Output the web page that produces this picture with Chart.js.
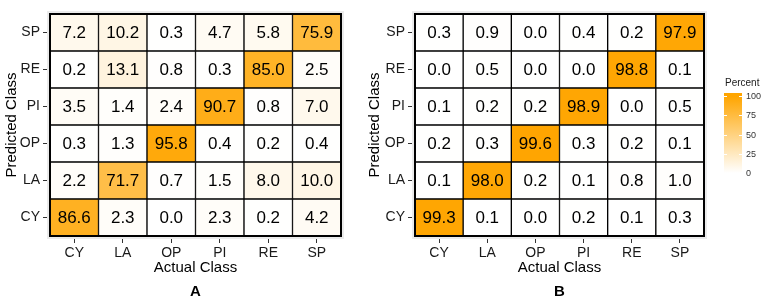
<!DOCTYPE html>
<html>
<head>
<meta charset="utf-8">
<script src="https://cdn.jsdelivr.net/npm/chart.js@4.4.0/dist/chart.umd.min.js"></script>
<style>
  html, body { margin: 0; padding: 0; background: #fff; }
  #wrap { position: relative; width: 765px; height: 306px; overflow: hidden;
          font-family: "Liberation Sans", Arial, sans-serif; }
  canvas { position: absolute; top: 0; }
  #chartA { left: 0; }
  #chartB { left: 363px; }
  #legend { position: absolute; left: 720px; top: 0; width: 45px; height: 306px; }
  #legend .ltitle { position: absolute; left: 5px; top: 77px; font-size: 10px; color: #1a1a1a; }
  #legend .bar { position: absolute; left: 4px; top: 93px; width: 18px; height: 83px; }
  #legend .lab { position: absolute; left: 26px; font-size: 9px; color: #333; line-height: 10px; }
  #legend .tk { position: absolute; width: 3px; height: 1px; background: #fff; }
</style>
</head>
<body>
<div id="wrap">
  <canvas id="chartA" width="363" height="306"></canvas>
  <canvas id="chartB" width="402" height="306"></canvas>
  <div id="legend"><div class="ltitle">Percent</div><div class="bar"></div></div>
</div>
<script>
// class order, bottom-to-top on y, left-to-right on x
const classes = ["CY", "LA", "OP", "PI", "RE", "SP"];

// Panel A: one row per predicted class, columns are the actual class
const a_CY = [86.6, 2.3, 0.0, 2.3, 0.2, 4.2];
const a_LA = [2.2, 71.7, 0.7, 1.5, 8.0, 10.0];
const a_OP = [0.3, 1.3, 95.8, 0.4, 0.2, 0.4];
const a_PI = [3.5, 1.4, 2.4, 90.7, 0.8, 7.0];
const a_RE = [0.2, 13.1, 0.8, 0.3, 85.0, 2.5];
const a_SP = [7.2, 10.2, 0.3, 4.7, 5.8, 75.9];

// Panel B
const b_CY = [99.3, 0.1, 0.0, 0.2, 0.1, 0.3];
const b_LA = [0.1, 98.0, 0.2, 0.1, 0.8, 1.0];
const b_OP = [0.2, 0.3, 99.6, 0.3, 0.2, 0.1];
const b_PI = [0.1, 0.2, 0.2, 98.9, 0.0, 0.5];
const b_RE = [0.0, 0.5, 0.0, 0.0, 98.8, 0.1];
const b_SP = [0.3, 0.9, 0.0, 0.4, 0.2, 97.9];

const legendTicks = [0, 25, 50, 75, 100];

const FONT = "'Liberation Sans', Arial, sans-serif";
const HIGH = [255, 165, 0];

// white -> orange
function fillFor(v) {
  const t = Math.max(0, Math.min(1, v / 100));
  const c = HIGH.map((h) => Math.round(255 + (h - 255) * t));
  return `rgb(${c[0]},${c[1]},${c[2]})`;
}

// grey panel behind the tiles, outer frame and the numbers in each cell
const tilePlugin = {
  id: "tiles",
  beforeDatasetsDraw(chart) {
    // drawn after the axes so it hides the inner end of the tick marks
    const { ctx, chartArea: a } = chart;
    ctx.save();
    ctx.fillStyle = "#ebebeb";
    ctx.fillRect(a.left - 3, a.top - 3, a.right - a.left + 6, a.bottom - a.top + 6);
    ctx.restore();
  },
  afterDatasetsDraw(chart) {
    const { ctx, chartArea: a, scales: { x, y } } = chart;
    ctx.save();
    ctx.strokeStyle = "#000";
    ctx.lineWidth = 2;
    ctx.strokeRect(a.left, a.top, a.right - a.left, a.bottom - a.top);

    ctx.font = "17px " + FONT;
    ctx.fillStyle = "#000";
    ctx.textAlign = "center";
    ctx.textBaseline = "middle";
    chart.data.datasets.forEach((ds, r) => {
      ds.values.forEach((v, c) => {
        ctx.fillText(v.toFixed(1), x.getPixelForValue(c), y.getPixelForValue(r) + 1);
      });
    });
    ctx.restore();
  },
};

function makeChart(id, rows, letter, yWidth, padRight) {
  return new Chart(document.getElementById(id), {
    type: "bar",
    data: {
      labels: classes,
      datasets: rows.map((row, r) => ({
        label: classes[r],
        data: row.map(() => [r - 0.5, r + 0.5]),
        values: row,
        backgroundColor: row.map(fillFor),
        borderColor: "#000",
        borderWidth: 1,
        borderSkipped: false,
        grouped: false,
        barPercentage: 1,
        categoryPercentage: 1,
      })),
    },
    options: {
      responsive: false,
      animation: false,
      layout: { padding: { top: 14, right: padRight, bottom: 1, left: 0 } },
      plugins: {
        legend: { display: false },
        tooltip: { enabled: false },
        title: {
          display: true,
          text: letter,
          position: "bottom",
          fullSize: false,
          color: "#000",
          font: { family: FONT, size: 15, weight: "bold" },
          padding: { top: 5, bottom: 4 },
        },
      },
      scales: {
        x: {
          type: "category",
          offset: true,
          grid: { offset: false, drawOnChartArea: false, tickLength: 7, color: "#333" },
          border: { display: false },
          ticks: { color: "#1a1a1a", font: { family: FONT, size: 14 }, padding: 2, maxRotation: 0 },
          title: {
            display: true,
            text: "Actual Class",
            color: "#000",
            font: { family: FONT, size: 15 },
            padding: { top: 0, bottom: 1 },
          },
          afterFit: (s) => { s.height = 42; },
        },
        y: {
          type: "linear",
          min: -0.5,
          max: 5.5,
          afterBuildTicks: (s) => { s.ticks = classes.map((_, i) => ({ value: i })); },
          grid: { drawOnChartArea: false, tickLength: 7, color: "#333" },
          border: { display: false },
          ticks: {
            color: "#1a1a1a",
            font: { family: FONT, size: 14 },
            padding: 3,
            callback: (v) => classes[v],
          },
          title: {
            display: true,
            text: "Predicted Class",
            color: "#000",
            font: { family: FONT, size: 15 },
            padding: { top: 3, bottom: 0 },
          },
          afterFit: (s) => { s.width = yWidth; },
        },
      },
    },
    plugins: [tilePlugin],
  });
}

makeChart("chartA", [a_CY, a_LA, a_OP, a_PI, a_RE, a_SP], "A", 50, 22);
makeChart("chartB", [b_CY, b_LA, b_OP, b_PI, b_RE, b_SP], "B", 52, 61);

// colour bar legend
const legend = document.getElementById("legend");
const bar = legend.querySelector(".bar");
const barTop = 93, barH = 83, lo = 173, hi = 96;
bar.style.background = `linear-gradient(to bottom, ${fillFor(100)} ${(hi - barTop) / barH * 100}%, ${fillFor(0)} ${(lo - barTop) / barH * 100}%)`;
legendTicks.forEach((t) => {
  const yy = lo - (t / 100) * (lo - hi);
  const lab = document.createElement("div");
  lab.className = "lab";
  lab.textContent = t;
  lab.style.top = (yy - 5) + "px";
  legend.appendChild(lab);
  [4, 19].forEach((xx) => {
    const tk = document.createElement("div");
    tk.className = "tk";
    tk.style.left = xx + "px";
    tk.style.top = Math.round(yy) + "px";
    legend.appendChild(tk);
  });
});
</script>
</body>
</html>
